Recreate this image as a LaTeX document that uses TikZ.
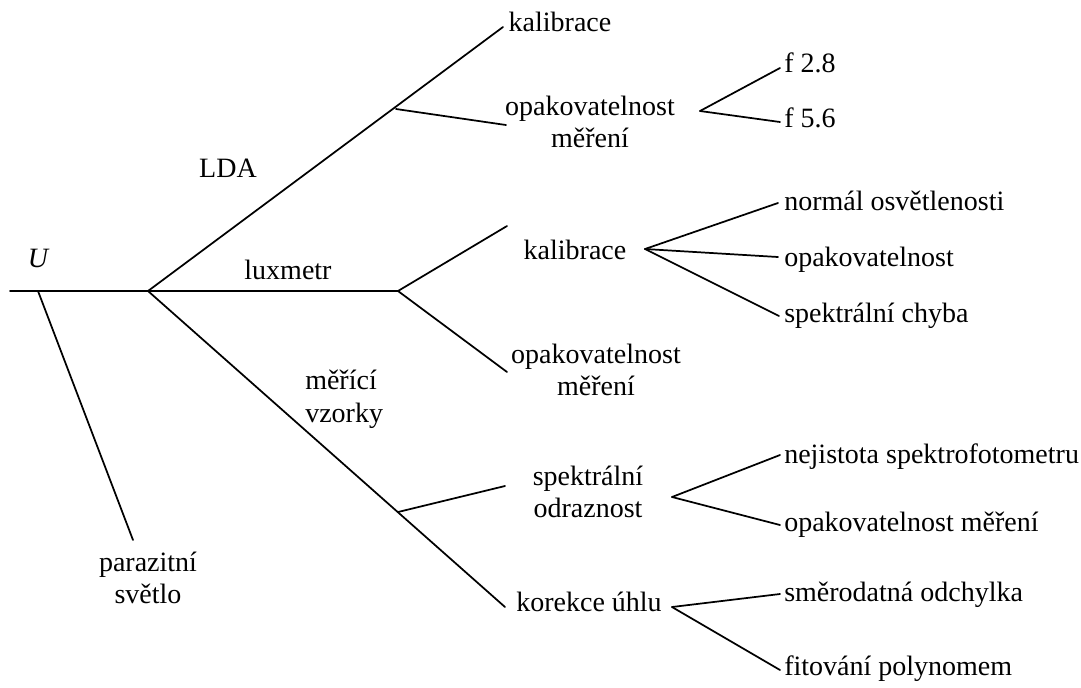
\documentclass[tikz,border=0pt]{standalone}
\usepackage{fontspec}
\setmainfont{Liberation Serif}
\usetikzlibrary{positioning}

\tikzset{
  branch/.style={line width=1.3pt, line cap=round},
  lbl/.style={font=\fontsize{21}{24.5}\selectfont, inner sep=0pt, align=center},
  leaf/.style={font=\fontsize{21}{24.5}\selectfont, anchor=base west, inner sep=0pt},
}

\begin{document}
\begin{tikzpicture}[x=0.75pt, y=-0.75pt]
  \useasboundingbox (0,0) rectangle (1081,687);

  % Junctions and line ends
  \coordinate (stem) at (10,291);
  \coordinate (uroot) at (38,291);
  \coordinate (root) at (148,291);
  \coordinate (lux) at (398,291);
  \coordinate (ldaend) at (503,27);
  \coordinate (ldasub) at (396,109);
  \coordinate (ldaopakend) at (506,125);
  \coordinate (ldaopakj) at (700,111);
  \coordinate (f28end) at (780,68);
  \coordinate (f56end) at (780,122);
  \coordinate (luxkalend) at (507,226);
  \coordinate (luxopakend) at (507,372);
  \coordinate (luxkalj) at (645,249);
  \coordinate (normalend) at (778,203);
  \coordinate (opakend) at (778,257);
  \coordinate (spchybaend) at (779,316);
  \coordinate (vzend) at (505,607);
  \coordinate (vzsub) at (398,512);
  \coordinate (spekend) at (505,486);
  \coordinate (spekj) at (672,497);
  \coordinate (nejistend) at (780,455);
  \coordinate (opakmerend) at (780,525);
  \coordinate (korj) at (672,607);
  \coordinate (smerend) at (780,594);
  \coordinate (fitend) at (780,670);
  \coordinate (parend) at (133,540);

  % Main line
  \node[lbl, font=\fontsize{21}{24.5}\selectfont\itshape] (u) at (38,258) {U};
  \draw[branch] (stem) -- (lux);
  \draw[branch] (uroot) -- (parend);
  \node[lbl] (parazit) at (148,578) {parazitní\\světlo};

  % LDA
  \node[lbl] (lda) at (228,168) {LDA};
  \draw[branch] (root) -- (ldaend);
  \node[lbl] (ldakal) at (560,22) {kalibrace};
  \draw[branch] (ldasub) -- (ldaopakend);
  \node[lbl] (ldaopak) at (590,122) {opakovatelnost\\měření};
  \node[leaf] (f28) at (784,72) {f 2.8};
  \node[leaf] (f56) at (784,127) {f 5.6};
  \draw[branch] (ldaopakj) -- (f28end);
  \draw[branch] (ldaopakj) -- (f56end);

  % luxmetr
  \node[lbl] (luxmetr) at (288,270) {luxmetr};
  \draw[branch] (lux) -- (luxkalend);
  \draw[branch] (lux) -- (luxopakend);
  \node[lbl] (luxkal) at (575,250) {kalibrace};
  \node[lbl] (luxopak) at (596,370) {opakovatelnost\\měření};
  \node[leaf] (normal) at (784,210) {normál osvětlenosti};
  \node[leaf] (opak) at (784,266) {opakovatelnost};
  \node[leaf] (spchyba) at (784,322) {spektrální chyba};
  \draw[branch] (luxkalj) -- (normalend);
  \draw[branch] (luxkalj) -- (opakend);
  \draw[branch] (luxkalj) -- (spchybaend);

  % mereci vzorky
  \node[lbl, align=left, anchor=west] (vzorky) at (305,399) {měřící\\vzorky};
  \draw[branch] (root) -- (vzend);
  \draw[branch] (vzsub) -- (spekend);
  \node[lbl] (spek) at (588,492) {spektrální\\odraznost};
  \node[lbl] (korekce) at (589,602) {korekce úhlu};
  \node[leaf] (nejist) at (784,463) {nejistota spektrofotometru};
  \node[leaf] (opakmer) at (784,531) {opakovatelnost měření};
  \node[leaf] (smer) at (784,601) {směrodatná odchylka};
  \node[leaf] (fit) at (784,675) {fitování polynomem};
  \draw[branch] (spekj) -- (nejistend);
  \draw[branch] (spekj) -- (opakmerend);
  \draw[branch] (korj) -- (smerend);
  \draw[branch] (korj) -- (fitend);
\end{tikzpicture}
\end{document}
